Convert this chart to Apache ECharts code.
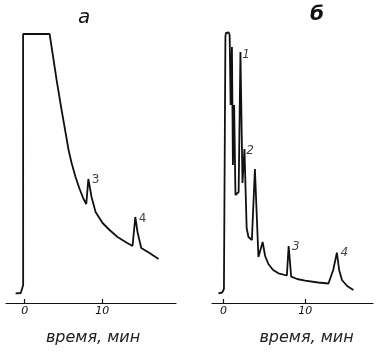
<!DOCTYPE html>
<html>
<head>
<meta charset="utf-8">
<script src="https://cdn.jsdelivr.net/npm/echarts@6/dist/echarts.min.js"></script>
<style>
html,body{margin:0;padding:0;background:#fff;}
#c{width:379px;height:356px;}
</style>
</head>
<body>
<div id="c"></div>
<script>
// Panel "а": time (min) and detector response (arbitrary units)
var timeA = [-1.16,-0.5,-0.3,-0.19,-0.2,3.22,4.12,4.76,5.28,5.66,6.05,6.56,7.08,7.59,7.94,8.21,8.62,9.14,10.04,10.94,11.97,13.0,13.9,14.26,14.54,15.02,16.09,17.25];
var respA = [9.7,10,11,18,269,269,223,193,170,153,140,126,114,104,99,124,106,91,80,73,66,61,57,86,71,55,50,44];

// Panel "б"
var timeB = [-0.61,-0.16,0.06,0.24,0.3,0.42,0.64,0.76,0.88,1.04,1.16,1.31,1.47,1.86,2.08,2.33,2.57,2.84,3.06,3.48,3.85,4.28,4.8,5.1,5.5,6.08,6.73,7.76,7.98,8.29,9.02,10.0,11.59,12.85,13.43,13.88,14.16,14.5,15.14,15.9];
var respB = [9.7,10.5,14,266,270,271,270.5,268,198,256,138,198,108,111,251,120,154,75,66,63,134,46,61,47,39,33,29.7,27.5,57,26.3,24,22.3,20.5,19.5,33,50.3,33,23,17,13];

// Peak labels
var peakNamesA = ['3','4'];
var peakTimeA = [9.14,15.18];
var peakRespA = [123,84];
var peakNamesB = ['1','2','3','4'];
var peakTimeB = [2.78,3.27,8.86,14.8];
var peakRespB = [248,152,56,50];

// Axis tick labels
var tickValues = [0,10];
var panelTitles = ['а','б'];
var axisTitle = 'время, мин';

function zip(xs, ys){ return xs.map(function(x,i){ return [x, ys[i]]; }); }
function labelData(names, xs, ys){ return names.map(function(n,i){ return {name:n, value:[xs[i], ys[i]]}; }); }

var fontFam = '"DejaVu Sans", "Liberation Sans", sans-serif';
var ink = '#111';

function xAxisCfg(idx, min, max, namePad){
  return {
    type:'value', gridIndex: idx, min:min, max:max,
    splitLine:{show:false},
    axisLine:{show:true, onZero:false, lineStyle:{color:ink, width:1.2}},
    axisTick:{show:true, inside:true, length:4, customValues: tickValues, lineStyle:{color:ink, width:1.2}},
    axisLabel:{show:true, customValues: tickValues, margin:3, color:ink, fontSize:11, fontStyle:'italic', fontFamily:fontFam},
    name: axisTitle, nameLocation:'middle', nameGap: 27,
    nameTextStyle:{color:'#222', fontSize:16, fontStyle:'italic', fontFamily:fontFam, padding:namePad}
  };
}

var chart = echarts.init(document.getElementById('c'), null, {renderer:'canvas'});
chart.setOption({
  animation:false,
  backgroundColor:'#fff',
  title:[
    {text: panelTitles[0], left: 73, top: 3, textStyle:{fontSize:20, fontWeight:'normal', fontStyle:'italic', color:ink, fontFamily:fontFam}},
    {text: panelTitles[1], left: 305, top: 0, textStyle:{fontSize:20, fontWeight:'bold', fontStyle:'italic', color:ink, fontFamily:fontFam}}
  ],
  grid:[
    {left:6, width:170, top:31, bottom:53},
    {left:212, width:161, top:31, bottom:53}
  ],
  xAxis:[
    xAxisCfg(0, -2.4, 19.5, [0,0,0,4]),
    xAxisCfg(1, -1.4, 18.3, [0,0,0,28])
  ],
  yAxis:[
    {type:'value', gridIndex:0, min:0, max:272, show:false},
    {type:'value', gridIndex:1, min:0, max:272, show:false}
  ],
  series:[
    {type:'line', xAxisIndex:0, yAxisIndex:0, data: zip(timeA, respA), showSymbol:false, symbol:'none',
     lineStyle:{color:ink, width:1.8}, clip:false},
    {type:'line', xAxisIndex:1, yAxisIndex:1, data: zip(timeB, respB), showSymbol:false, symbol:'none',
     lineStyle:{color:ink, width:1.8}, clip:false},
    {type:'scatter', xAxisIndex:0, yAxisIndex:0, symbolSize:0, data: labelData(peakNamesA, peakTimeA, peakRespA),
     label:{show:true, formatter:'{b}', position:'inside', color:ink, fontSize:12, fontFamily:fontFam}},
    {type:'scatter', xAxisIndex:1, yAxisIndex:1, symbolSize:0, data: labelData(peakNamesB, peakTimeB, peakRespB),
     label:{show:true, formatter:'{b}', position:'inside', color:ink, fontSize:12, fontStyle:'italic', fontFamily:fontFam}}
  ]
});
</script>
</body>
</html>
